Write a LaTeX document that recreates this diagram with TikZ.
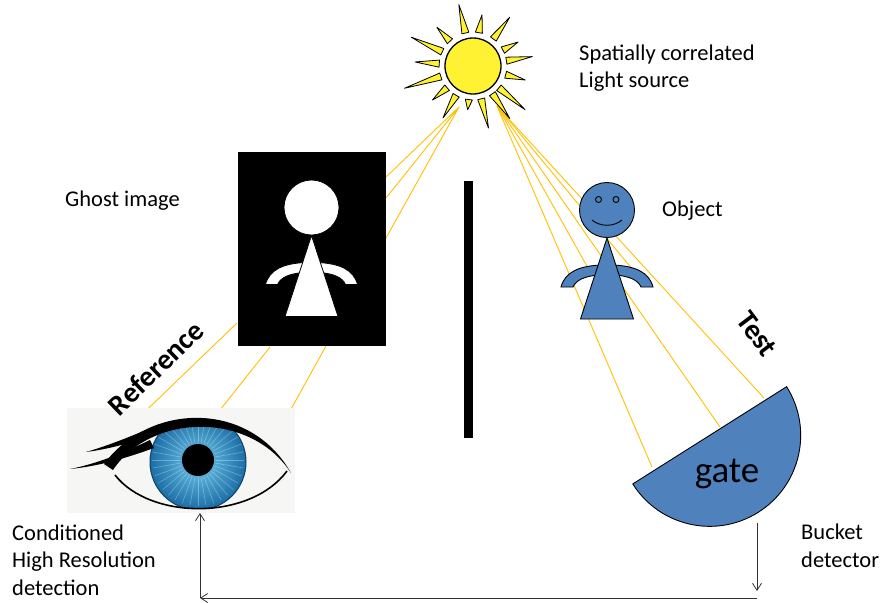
\documentclass[tikz,border=0pt]{standalone}
\usepackage{fontspec}
\setmainfont{Carlito}
\usetikzlibrary{arrows.meta}

\definecolor{sunyellow}{HTML}{FFF232}
\definecolor{rayorange}{HTML}{FFC000}
\definecolor{figblue}{HTML}{4F81BD}
\definecolor{irisdark}{HTML}{1A6EA6}
\definecolor{irislight}{HTML}{74C8EC}
\definecolor{photobg}{HTML}{F6F6F4}

\tikzset{
  ray/.style={rayorange, line width=0.9pt},
  sunray/.style={fill=sunyellow, draw=black, line width=0.8pt, line join=round},
  label/.style={font=\fontsize{22.5}{27.5}\selectfont, align=left, anchor=west, inner sep=0pt},
  armlabel/.style={font=\bfseries\fontsize{29}{34}\selectfont, inner sep=0pt},
  link/.style={black!80, line width=0.8pt, -{Straight Barb[length=7pt,width=9pt]}},
  stickman/.pic={
    % arms first, the body covers their inner ends
    \path[pic actions] (-46,77) .. controls (-42,62) and (-28,56) .. (-6,55)
      -- (-8,65) .. controls (-22,66) and (-31,70) .. (-34,77) -- cycle;
    \path[pic actions] (46,77) .. controls (42,62) and (28,56) .. (6,55)
      -- (8,65) .. controls (22,66) and (31,70) .. (34,77) -- cycle;
    \path[pic actions] (0,28) -- (26.5,109) -- (-26.5,109) -- cycle;
    \path[pic actions] (0,0) circle (27.5);
  }
}

\begin{document}
\begin{tikzpicture}[x=1pt, y=-1pt]
\useasboundingbox (0,0) rectangle (880,602);

% light paths, reference arm
\draw[ray] (459,107) -- (386,177) (459,107) -- (386,198) (459,107) -- (386,238);
\draw[ray] (237,323) -- (128,428) (270,347) -- (220,410) (326,346) -- (275,438);
% light paths, test arm
\foreach \p in {(652,467),(588,268),(720,427),(643,282),(764,398)}
  \draw[ray] (497,106) -- \p;

% source
\node[circle, fill=sunyellow, draw=black, line width=1.3pt, minimum size=56, inner sep=0pt] (sun) at (473,66) {};
\foreach \a/\l in {351/60, 332/51, 307/61, 280/52, 257/63, 227/53, 205/68, 184/58,
                   162/72, 140/53, 120/60, 97/44, 76/64, 55/64, 40/68, 15/54}
  \draw[sunray, shift={(sun.center)}] (\a-6:34) -- (\a:\l) -- (\a+6:34) -- cycle;
\node[label] (srclabel) at (579,68) {Spatially correlated\\Light source};

% ghost image
\node[fill=black, minimum width=148, minimum height=194, inner sep=0pt] (ghost) at (312,249) {};
\pic[fill=white, draw=black, line width=0.8pt] at (311.5,207.5) {stickman};
\node[label] (ghostlabel) at (65,201) {Ghost image};

% screen between the arms
\node[fill=black, minimum width=9, minimum height=257, inner sep=0pt] (screen) at (468.5,309.5) {};

% object
\pic[fill=figblue, draw=black, line width=0.9pt] at (607,210) {stickman};
\draw[line width=0.9pt] (598.5,199.5) circle (3) (616,199.5) circle (3);
\draw[line width=0.9pt] (592,220) .. controls (600,227) and (614,227) .. (622,220);
\node[label] (objlabel) at (662,211) {Object};

% bucket detector
\fill[figblue, draw=black, line width=0.9pt] (786.6,386.7) arc[start angle=-32.3, end angle=147.7, radius=91] -- cycle;
\node[font=\fontsize{37}{44}\selectfont, inner sep=0pt] (gate) at (727,474) {gate};
\node[label] (bucketlabel) at (801,546) {Bucket\\detector};

% eye
\fill[photobg] (67,408) rectangle (295,513);
\begin{scope}
  \clip (113,470) .. controls (150,414) and (250,410) .. (290,472)
        .. controls (255,520) and (150,522) .. (113,470);
  \shade[inner color=irislight, outer color=irisdark] (198,462) circle (48);
  \foreach \a in {0,10,...,350}
    \draw[white, opacity=.3, line width=.6pt, shift={(198,460)}] (\a:18) -- (\a:46);
  \draw[irisdark!60!black, line width=1pt] (198,462) circle (48);
  \fill[black] (198,460) circle (16);
\end{scope}
\fill[black] (104,464) .. controls (150,402) and (250,400) .. (291,473)
             .. controls (250,410) and (150,414) .. (113,470) -- cycle;
% lashes
\fill[black] (86,452) .. controls (110,445) and (132,436) .. (160,424)
             -- (164,432) .. controls (134,442) and (110,449) .. (86,452) -- cycle;
\fill[black] (70,469) .. controls (100,463) and (125,452) .. (150,440)
             -- (154,448) .. controls (126,458) and (100,466) .. (70,469) -- cycle;
\draw[line width=1.6pt] (115,475) .. controls (150,520) and (250,521) .. (287,471);
\node[label] (eyelabel) at (12,560) {Conditioned\\High Resolution\\detection};

% arm labels
\node[armlabel, rotate=44] (reflabel) at (156,368) {Reference};
\node[armlabel, rotate=-53] (testlabel) at (757,334) {Test};

% coincidence wiring
\coordinate (eyefoot) at (200,513);
\coordinate (bucketfoot) at (757,523);
\coordinate (wireL) at (200,598);
\coordinate (wireR) at (757,598);
\draw[link] (bucketfoot) -- ([yshift=7pt]wireR);
\draw[link] (wireR) -- (wireL);
\draw[link] (wireL) -- (eyefoot);
\end{tikzpicture}
\end{document}
